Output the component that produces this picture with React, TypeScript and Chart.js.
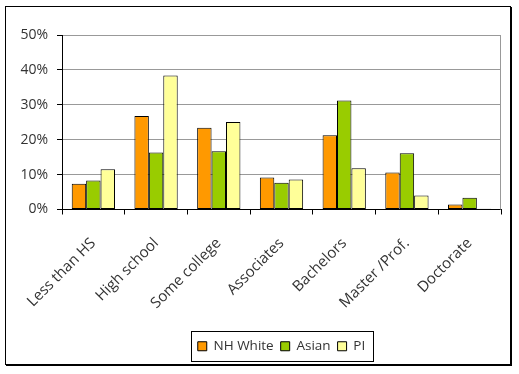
import React, { useEffect, useRef } from 'react';
import { Chart, registerables } from 'chart.js';

Chart.register(...registerables);

const categories = ['Less than HS', 'High school', 'Some college', 'Associates', 'Bachelors', 'Master /Prof.', 'Doctorate'];
const nhWhite = [7.4, 26.8, 23.4, 9.2, 21.3, 10.6, 1.4];
const asian = [8.3, 16.3, 16.7, 7.7, 31.2, 16.1, 3.4];
const pi = [11.5, 38.4, 25.1, 8.6, 11.8, 4.0, 0.2];
const seriesNames = ['NH White', 'Asian', 'PI'];
const seriesColors = ['#FF9900', '#99CC00', '#FFFF99'];
const yMin = 0;
const yMax = 50;
const yStep = 10;

const FONT = "'Open Sans', 'DejaVu Sans', sans-serif";
const TEXT = '#333333';

const framePlugin = {
  id: 'frame',
  afterDraw(chart: any) {
    const ctx = chart.ctx;
    const ca = chart.chartArea;
    ctx.save();
    ctx.strokeStyle = '#999999';
    ctx.lineWidth = 1;
    ctx.beginPath();
    ctx.moveTo(Math.round(ca.right) - 0.5, ca.top);
    ctx.lineTo(Math.round(ca.right) - 0.5, ca.bottom);
    ctx.stroke();
    const lg = chart.legend;
    if (lg && lg.legendHitBoxes && lg.legendHitBoxes.length) {
      const hb = lg.legendHitBoxes;
      let l = Infinity, r = -Infinity, t = Infinity, b = -Infinity;
      hb.forEach((h: any) => {
        l = Math.min(l, h.left);
        r = Math.max(r, h.left + h.width);
        t = Math.min(t, h.top);
        b = Math.max(b, h.top + h.height);
      });
      const cy = (t + b) / 2;
      ctx.strokeStyle = '#000000';
      ctx.lineWidth = 1;
      ctx.strokeRect(Math.round(l - 7) + 0.5, Math.round(cy - 15) + 0.5, Math.round(r - l + 15), 30);
    }
    ctx.strokeStyle = '#000000';
    ctx.lineWidth = 1;
    ctx.strokeRect(5.5, 6.5, 505, 358);
    ctx.beginPath();
    ctx.moveTo(511.5, 7);
    ctx.lineTo(511.5, 366);
    ctx.moveTo(6, 365.5);
    ctx.lineTo(512, 365.5);
    ctx.stroke();
    ctx.restore();
  },
};

export default function App() {
  const ref = useRef<HTMLCanvasElement>(null);
  useEffect(() => {
    if (!ref.current) return;
    const datasets = [nhWhite, asian, pi].map((d, i) => ({
      label: seriesNames[i],
      data: d,
      backgroundColor: seriesColors[i],
      borderColor: '#000000',
      borderWidth: 1,
      borderSkipped: false as any,
      categoryPercentage: 0.69,
      barPercentage: 1.0,
    }));
    const chart = new Chart(ref.current, {
      type: 'bar',
      data: { labels: categories, datasets },
      options: {
        animation: false,
        responsive: false,
        layout: { padding: { left: 0, right: 18, top: 35, bottom: 11 } },
        plugins: {
          tooltip: { enabled: false },
          legend: {
            position: 'bottom',
            fullSize: false,
            labels: {
              boxWidth: 9,
              boxHeight: 9,
              padding: 7,
              color: TEXT,
              font: { family: FONT, size: 13.5 },
            },
          },
        },
        scales: {
          x: {
            afterFit: (s: any) => { s.height = 123; },
            grid: {
              offset: true,
              drawOnChartArea: false,
              color: '#000000',
              tickLength: 5,
            },
            border: { color: '#000000', width: 1 },
            ticks: {
              autoSkip: false,
              maxRotation: 45,
              minRotation: 45,
              padding: 20,
              color: TEXT,
              font: { family: FONT, size: 15 },
            },
          },
          y: {
            min: yMin,
            max: yMax,
            afterFit: (s: any) => { s.width = 62; },
            grid: {
              color: '#999999',
              tickColor: '#000000',
              tickLength: 5,
            },
            border: { color: '#000000', width: 1 },
            ticks: {
              stepSize: yStep,
              padding: 9,
              color: TEXT,
              font: { family: FONT, size: 14 },
              callback: (v: any) => v + '%',
            },
          },
        },
      },
      plugins: [framePlugin],
    });
    return () => chart.destroy();
  }, []);
  return (
    <div style={{ position: 'fixed', left: 0, top: 0, width: 519, height: 374, background: '#fff' }}>
      <canvas ref={ref} width={519} height={374} style={{ display: 'block' }} />
    </div>
  );
}
